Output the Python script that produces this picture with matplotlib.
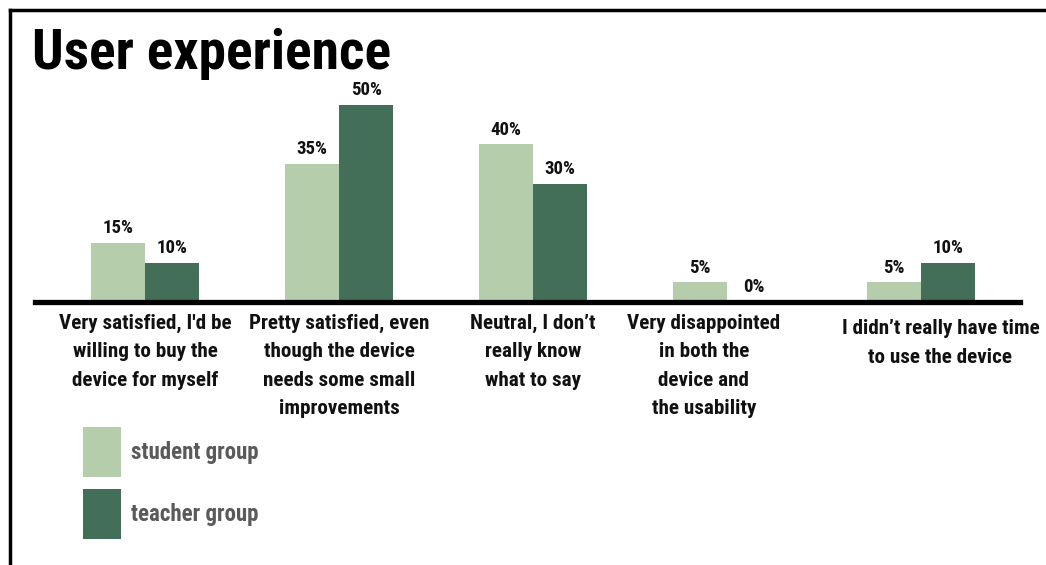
import matplotlib
matplotlib.use("Agg")
import matplotlib.pyplot as plt
from matplotlib import font_manager
from matplotlib.lines import Line2D
from matplotlib.patches import Patch
import numpy as np

categories = [
    "Very satisfied, I'd be\nwilling to buy the\ndevice for myself",
    "Pretty satisfied, even\nthough the device\nneeds some small\nimprovements",
    "Neutral, I don\u2019t\nreally know\nwhat to say",
    "Very disappointed\nin both the\ndevice and\nthe usability",
    "I didn\u2019t really have time\nto use the device",
]
student = [15, 35, 40, 5, 5]
teacher = [10, 50, 30, 0, 10]
series_names = ["student group", "teacher group"]

names = {f.name for f in font_manager.fontManager.ttflist}
font = "DejaVu Sans"
for cand in ["Roboto Condensed", "Liberation Sans Narrow", "Open Sans Condensed", "DejaVu Sans"]:
    if cand in names:
        font = cand
        break
plt.rcParams["font.family"] = [font, "DejaVu Sans"]

light = "#b6cdab"
dark = "#436f58"

W, H = 1046, 565
fig = plt.figure(figsize=(W / 100, H / 100), dpi=100)
ax = fig.add_axes([35 / W, 1 - 302 / H, (1020 - 35) / W, (302 - 85) / H])

x = np.arange(len(categories))
bw = 0.28
b1 = ax.bar(x - bw / 2, student, bw, color=light, label=series_names[0])
b2 = ax.bar(x + bw / 2, teacher, bw, color=dark, label=series_names[1])

for bars, vals in ((b1, student), (b2, teacher)):
    for r, v in zip(bars, vals):
        ax.annotate(f"{v}%", (r.get_x() + r.get_width() / 2, v), xytext=(0, 4),
                    textcoords="offset points", ha="center", va="bottom",
                    fontsize=13.5, fontweight="bold", color="#111111")

ax.set_xlim(-0.567, 4.51)
ax.set_ylim(0, 55)
for s in ["top", "right", "left"]:
    ax.spines[s].set_visible(False)
ax.spines["bottom"].set_linewidth(3.8)
ax.spines["bottom"].set_color("black")
ax.set_yticks([])
ax.set_xticks([])

label_dx = [0.0, 0.0, 0.0, -0.12, 0.10]
label_dy = [0, 0, 0, 0, 4]
for i, (c, dx, dy) in enumerate(zip(categories, label_dx, label_dy)):
    ax.annotate(c, (i + dx, 0), xytext=(0, -8.5 - dy), textcoords="offset points",
                ha="center", va="top", fontsize=15.2, fontweight="bold",
                linespacing=1.63, color="#111111", annotation_clip=False)

fig.text(32 / W, 1 - 69 / H, "User experience", fontsize=40, fontweight="bold",
         ha="left", va="baseline", color="black")

handles = [Patch(facecolor=light, edgecolor="none"), Patch(facecolor=dark, edgecolor="none")]
fig.legend(handles, series_names, loc="upper left", bbox_to_anchor=(83 / W, 1 - 427 / H),
           frameon=False, handlelength=1.66, handleheight=2.98,
           labelspacing=0.52, handletextpad=0.45, borderpad=0, borderaxespad=0,
           labelcolor="#5a5a5a", prop={"weight": "bold", "size": 16.5})

fig.add_artist(Line2D([10 / W, 10 / W], [0, 1 - 10 / H], color="black", lw=2.5))
fig.add_artist(Line2D([10 / W, 1], [1 - 10 / H, 1 - 10 / H], color="black", lw=2.5))

fig.savefig("out.png", dpi=100)
